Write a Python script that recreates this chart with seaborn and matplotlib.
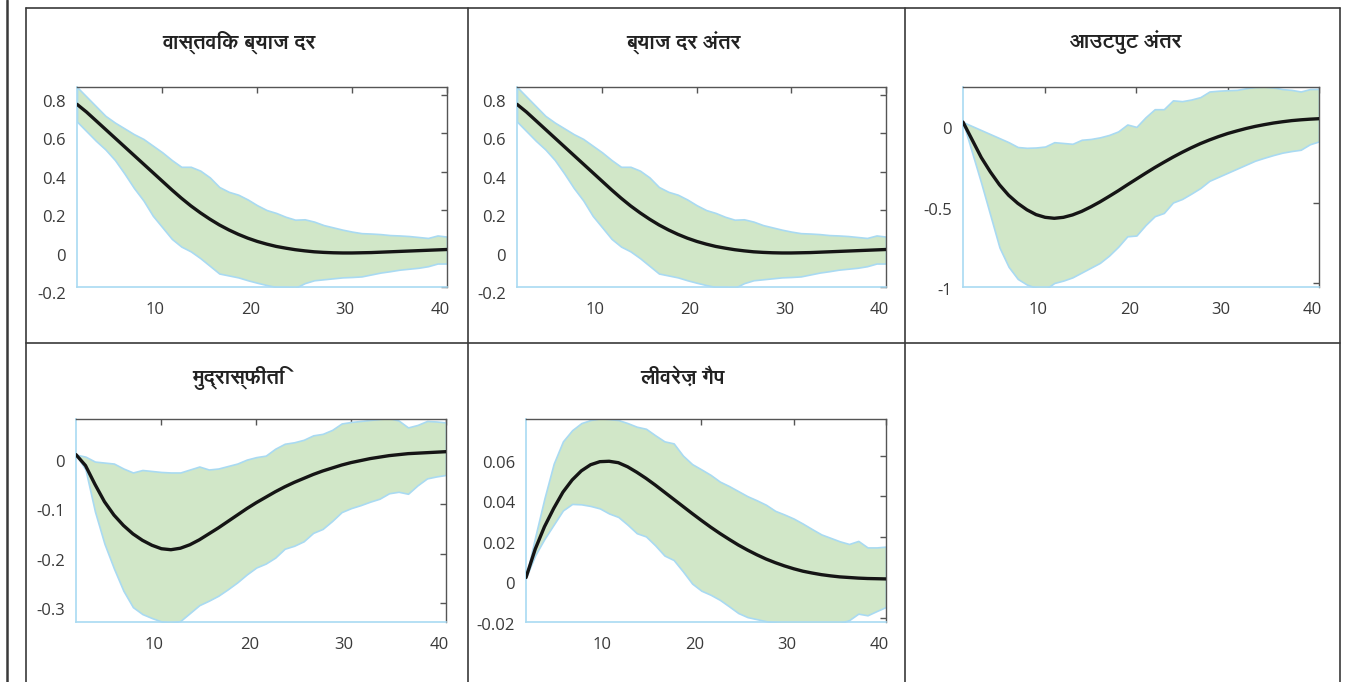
import matplotlib
matplotlib.use("Agg")
import matplotlib.pyplot as plt
import matplotlib.transforms as mtransforms
from matplotlib import font_manager
from matplotlib.ft2font import FT2Font
from matplotlib.lines import Line2D
import numpy as np
import pandas as pd
import seaborn as sns

# horizon (quarters)
periods = list(range(1, 41))

titles = ["वास्तविक ब्याज दर", "ब्याज दर अंतर", "आउटपुट अंतर", "मुद्रास्फीति", "लीवरेज़ गैप"]

# real interest rate
rate_med = [0.75, 0.71, 0.665, 0.62, 0.575, 0.53, 0.485, 0.44, 0.395, 0.35,
            0.305, 0.262, 0.222, 0.186, 0.153, 0.123, 0.097, 0.074, 0.054, 0.037,
            0.023, 0.011, 0.002, -0.006, -0.012, -0.017, -0.02, -0.022, -0.023, -0.023,
            -0.022, -0.021, -0.019, -0.017, -0.015, -0.013, -0.011, -0.009, -0.007, -0.005]
rate_hi = [0.84, 0.79, 0.74, 0.69, 0.655, 0.625, 0.595, 0.57, 0.535, 0.50,
           0.46, 0.425, 0.425, 0.405, 0.37, 0.32, 0.295, 0.28, 0.255, 0.225,
           0.2, 0.185, 0.165, 0.15, 0.152, 0.14, 0.122, 0.11, 0.098, 0.088,
           0.08, 0.078, 0.075, 0.07, 0.068, 0.065, 0.06, 0.055, 0.068, 0.062]
rate_lo = [0.66, 0.61, 0.56, 0.515, 0.46, 0.39, 0.315, 0.25, 0.17, 0.11,
           0.05, 0.01, -0.015, -0.05, -0.09, -0.13, -0.14, -0.15, -0.165, -0.178,
           -0.19, -0.2, -0.2, -0.205, -0.18, -0.165, -0.16, -0.155, -0.15, -0.148,
           -0.145, -0.135, -0.125, -0.118, -0.11, -0.105, -0.1, -0.092, -0.078, -0.078]

# interest rate gap (same shape as the real rate in the source)
gap_med = list(rate_med)
gap_hi = list(rate_hi)
gap_lo = list(rate_lo)

# output gap
out_med = [0.0, -0.11, -0.22, -0.31, -0.39, -0.455, -0.505, -0.545, -0.575, -0.592,
           -0.598, -0.592, -0.577, -0.555, -0.527, -0.496, -0.462, -0.427, -0.39, -0.354,
           -0.318, -0.283, -0.25, -0.218, -0.188, -0.16, -0.134, -0.111, -0.09, -0.071,
           -0.055, -0.04, -0.027, -0.016, -0.006, 0.002, 0.009, 0.014, 0.018, 0.021]
out_hi = [0.0, -0.025, -0.05, -0.075, -0.1, -0.125, -0.155, -0.16, -0.158, -0.152,
          -0.125, -0.13, -0.135, -0.11, -0.105, -0.095, -0.08, -0.058, -0.015, -0.03,
          0.03, 0.08, 0.08, 0.135, 0.13, 0.14, 0.155, 0.19, 0.195, 0.198,
          0.2, 0.21, 0.218, 0.22, 0.215, 0.205, 0.2, 0.19, 0.205, 0.206]
out_lo = [0.0, -0.19, -0.38, -0.58, -0.78, -0.9, -0.975, -1.01, -1.03, -1.04,
          -1.0, -0.985, -0.965, -0.935, -0.905, -0.875, -0.83, -0.775, -0.71, -0.705,
          -0.64, -0.585, -0.565, -0.5, -0.478, -0.445, -0.41, -0.365, -0.34, -0.315,
          -0.29, -0.265, -0.24, -0.222, -0.205, -0.19, -0.18, -0.172, -0.138, -0.12]

# inflation
inf_med = [0.0, -0.022, -0.06, -0.095, -0.122, -0.143, -0.16, -0.173, -0.183, -0.19,
           -0.192, -0.189, -0.182, -0.172, -0.16, -0.148, -0.135, -0.122, -0.109, -0.097,
           -0.086, -0.075, -0.065, -0.056, -0.048, -0.04, -0.033, -0.027, -0.021, -0.016,
           -0.012, -0.008, -0.005, -0.002, 0.0, 0.002, 0.003, 0.004, 0.005, 0.006]
inf_hi = [0.0, -0.004, -0.014, -0.016, -0.018, -0.028, -0.036, -0.031, -0.033, -0.035,
          -0.036, -0.036, -0.03, -0.024, -0.03, -0.028, -0.023, -0.018, -0.01, -0.005,
          -0.002, 0.012, 0.022, 0.025, 0.03, 0.039, 0.042, 0.05, 0.063, 0.066,
          0.068, 0.07, 0.072, 0.074, 0.069, 0.055, 0.06, 0.068, 0.067, 0.065]
inf_lo = [0.0, -0.03, -0.115, -0.18, -0.23, -0.275, -0.308, -0.322, -0.33, -0.337,
          -0.34, -0.336, -0.32, -0.304, -0.295, -0.285, -0.272, -0.258, -0.242, -0.228,
          -0.22, -0.208, -0.19, -0.184, -0.175, -0.158, -0.15, -0.134, -0.116, -0.108,
          -0.102, -0.095, -0.089, -0.078, -0.075, -0.079, -0.062, -0.048, -0.044, -0.041]

# leverage gap
lev_med = [0.0, 0.014, 0.025, 0.034, 0.042, 0.048, 0.0525, 0.0555, 0.057, 0.0572,
           0.0565, 0.0545, 0.0518, 0.0488, 0.0455, 0.042, 0.0385, 0.035, 0.0315, 0.0281,
           0.0248, 0.0217, 0.0188, 0.016, 0.0135, 0.0112, 0.0091, 0.0073, 0.0057, 0.0043,
           0.0031, 0.0022, 0.0014, 0.0008, 0.0003, 0.0, -0.0003, -0.0005, -0.0006, -0.0007]
lev_hi = [0.0, 0.02, 0.039, 0.056, 0.067, 0.0725, 0.076, 0.0775, 0.0783, 0.078,
          0.0775, 0.076, 0.0742, 0.0732, 0.07, 0.067, 0.066, 0.06, 0.0558, 0.0532,
          0.0505, 0.0472, 0.045, 0.0425, 0.04, 0.038, 0.0358, 0.0328, 0.031, 0.029,
          0.0265, 0.0238, 0.0212, 0.0195, 0.0178, 0.0165, 0.018, 0.0148, 0.0148, 0.0152]
lev_lo = [0.0, 0.011, 0.019, 0.026, 0.033, 0.0362, 0.036, 0.0352, 0.034, 0.0315,
          0.0298, 0.026, 0.0218, 0.0202, 0.0158, 0.0108, 0.0086, 0.003, -0.003, -0.0065,
          -0.0085, -0.011, -0.0142, -0.0175, -0.0195, -0.0205, -0.0215, -0.0222, -0.0228, -0.023,
          -0.0232, -0.0232, -0.023, -0.0228, -0.0225, -0.021, -0.0178, -0.0186, -0.0165, -0.0145]

rate_yticks = [-0.2, 0, 0.2, 0.4, 0.6, 0.8]
out_yticks = [-1, -0.5, 0]
inf_yticks = [-0.3, -0.2, -0.1, 0]
lev_yticks = [-0.02, 0, 0.02, 0.04, 0.06]
xticks = [10, 20, 30, 40]

W, H = 1348, 682
FILL = "#d1e7c8"
EDGE = "#a9daf2"
FRAME = "#3a3a3a"


def find_devanagari_font():
    # prefer a family that also ships a bold face
    found = {}
    for f in font_manager.fontManager.ttflist:
        try:
            if 0x0935 not in FT2Font(f.fname).get_charmap():
                continue
        except Exception:
            continue
        w = f.weight if isinstance(f.weight, int) else 400
        found.setdefault(f.name, set()).add(w)
    if not found:
        return None
    bold = [n for n, ws in found.items() if max(ws) >= 600]
    return (bold or list(found))[0]


sns.set_style("white")
deva = find_devanagari_font()
plt.rcParams["font.family"] = ["Open Sans", "DejaVu Sans"]
title_family = [deva, "DejaVu Sans"] if deva else ["DejaVu Sans"]

fig = plt.figure(figsize=(W / 100, H / 100), dpi=100)


def px_axes(left, top, right, bottom):
    return fig.add_axes([left / W, 1 - bottom / H, (right - left) / W, (bottom - top) / H])


panels = [
    # (title, med, lo, hi, ylim, yticks, axes box, title center x, title y)
    (titles[0], rate_med, rate_lo, rate_hi, (-0.2, 0.84), rate_yticks, (77, 87, 447, 287), 239, 42),
    (titles[1], gap_med, gap_lo, gap_hi, (-0.2, 0.84), rate_yticks, (517, 87, 886, 287), 683, 42),
    (titles[2], out_med, out_lo, out_hi, (-1.025, 0.218), out_yticks, (963, 87, 1319, 287), 1126, 42),
    (titles[3], inf_med, inf_lo, inf_hi, (-0.338, 0.072), inf_yticks, (76, 419, 446, 622), 238, 378),
    (titles[4], lev_med, lev_lo, lev_hi, (-0.0219, 0.078), lev_yticks, (526, 419, 886, 622), 683, 378),
]

for title, med, lo, hi, ylim, yticks, box, tx, ty in panels:
    ax = px_axes(*box)
    df = pd.DataFrame({"period": periods, "median": med, "lo": lo, "hi": hi})
    ax.fill_between(df["period"], df["lo"], df["hi"], facecolor=FILL,
                    edgecolor=EDGE, linewidth=1.2, zorder=1)
    sns.lineplot(data=df, x="period", y="median", ax=ax, color="#151515",
                 linewidth=2.4, zorder=3)
    ax.set_xlim(1, 40)
    ax.set_ylim(*ylim)
    ax.set_xticks(xticks)
    ax.set_xticklabels([str(t) for t in xticks])
    ax.set_yticks(yticks)
    ax.set_yticklabels([f"{t:g}" for t in yticks])
    ax.set_xlabel("")
    ax.set_ylabel("")
    for side in ["left", "bottom"]:
        ax.spines[side].set_color(EDGE)
        ax.spines[side].set_linewidth(1.2)
    for side in ["top", "right"]:
        ax.spines[side].set_color("#555555")
        ax.spines[side].set_linewidth(1.0)
    ax.tick_params(axis="both", which="major", direction="in", length=4, width=1,
                   color="#555555", top=True, right=True, bottom=False, left=False,
                   labelsize=12, labelcolor="#3a3a3a")
    ax.tick_params(axis="x", pad=11)
    ax.tick_params(axis="y", pad=8)
    # labels sit a little left / below their ticks in the source
    for lab in ax.get_xticklabels():
        lab.set_transform(lab.get_transform() + mtransforms.ScaledTranslation(-7 / 100, 0, fig.dpi_scale_trans))
    for lab in ax.get_yticklabels():
        lab.set_transform(lab.get_transform() + mtransforms.ScaledTranslation(0, -6 / 100, fig.dpi_scale_trans))
    fig.text(tx / W, 1 - ty / H, title, ha="center", va="center", fontsize=15,
             fontweight="bold", color="#222222", family=title_family)

# table grid around the panels
def hline(y, x0, x1):
    fig.add_artist(Line2D([x0 / W, x1 / W], [1 - y / H, 1 - y / H], color=FRAME, linewidth=1.2))


def vline(x, y0, y1, lw=1.2):
    fig.add_artist(Line2D([x / W, x / W], [1 - y0 / H, 1 - y1 / H], color=FRAME, linewidth=lw))


vline(7, 0, H, lw=1.8)
vline(26, 8, H)
vline(468, 8, H)
vline(905, 8, H)
vline(1340, 8, H)
hline(8, 26, 1340)
hline(343, 26, 1340)

fig.savefig("out.png", dpi=100)
